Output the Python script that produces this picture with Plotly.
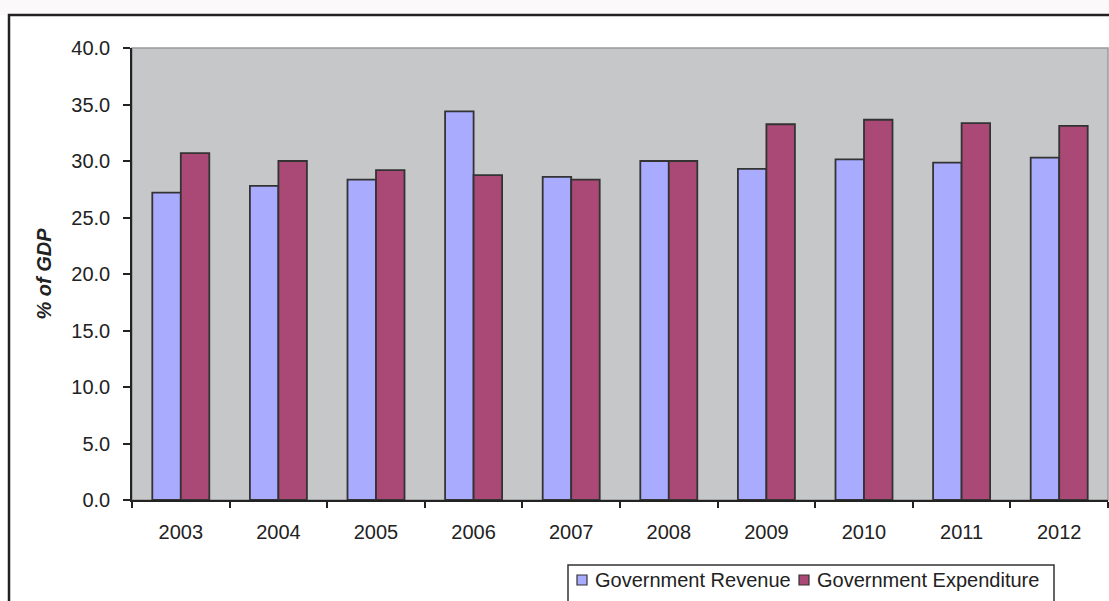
import plotly.graph_objects as go

years = ["2003", "2004", "2005", "2006", "2007", "2008", "2009", "2010", "2011", "2012"]
revenue = [27.2, 27.8, 28.35, 34.4, 28.6, 30.0, 29.3, 30.15, 29.85, 30.3]
expenditure = [30.7, 30.0, 29.2, 28.75, 28.35, 30.0, 33.25, 33.65, 33.35, 33.1]
y_ticks = [0, 5, 10, 15, 20, 25, 30, 35, 40]
series_names = ["Government Revenue", "Government Expenditure"]
series_colors = ["#a9abff", "#aa4876"]

W, H = 1109, 601
L, R, T, B = 132, 1, 48, 101
pw, ph = W - L - R, H - T - B

def px(x):
    return (x - L) / pw

def py(y):
    return (H - B - y) / ph

font = "Liberation Sans, Arial, sans-serif"
FS = 20

fig = go.Figure()
for name, vals, col in zip(series_names, [revenue, expenditure], series_colors):
    fig.add_trace(go.Bar(x=years, y=vals, name=name, showlegend=False,
                         marker=dict(color=col, line=dict(color="#333333", width=1.8))))

shapes = [
    dict(type="rect", xref="paper", yref="paper", x0=px(-5), x1=px(1120), y0=py(-5), y1=py(15),
         fillcolor="#fbf9f9", line=dict(width=0), layer="below"),
    dict(type="rect", xref="paper", yref="paper", x0=px(9), x1=px(1115), y0=py(15), y1=py(640),
         line=dict(color="#222222", width=2.5), fillcolor="rgba(0,0,0,0)"),
    dict(type="rect", xref="paper", yref="paper", x0=0, x1=1, y0=0, y1=1,
         line=dict(color="#9a9a9a", width=1.5), fillcolor="rgba(0,0,0,0)", layer="below"),
    dict(type="rect", xref="paper", yref="paper", x0=px(568), x1=px(1054), y0=py(565), y1=py(640),
         line=dict(color="#333333", width=1.5), fillcolor="rgba(0,0,0,0)"),
]
annotations = []
legend_x = [577, 799]
for name, col, lx in zip(series_names, series_colors, legend_x):
    shapes.append(dict(type="rect", xref="paper", yref="paper", x0=px(lx), x1=px(lx + 10),
                       y0=py(575), y1=py(585), fillcolor=col, line=dict(color="#333333", width=1.2)))
    annotations.append(dict(xref="paper", yref="paper", x=px(lx + 16), y=py(580), xanchor="left",
                            yanchor="middle", text=name, showarrow=False,
                            font=dict(family=font, size=FS, color="#222222")))

fig.update_layout(
    width=W, height=H,
    margin=dict(l=L, r=R, t=T, b=B),
    paper_bgcolor="white",
    plot_bgcolor="#c6c7c9",
    barmode="group", bargap=0.416, bargroupgap=0,
    font=dict(family=font, size=FS, color="#222222"),
    showlegend=False,
    xaxis=dict(type="category", showgrid=False, showline=True, linecolor="#222222", linewidth=1.5,
               ticks="outside", tickson="boundaries", ticklen=6, tickcolor="#222222", tickwidth=1.5,
               tickfont=dict(size=FS), ticklabelstandoff=13),
    yaxis=dict(range=[0, 40], tickvals=y_ticks, tickformat=".1f", showgrid=False, zeroline=False,
               showline=True, linecolor="#222222", linewidth=1.5,
               ticks="outside", ticklen=7, tickcolor="#222222", tickwidth=1.5,
               tickfont=dict(size=FS), ticklabelstandoff=9,
               title=dict(text="<b><i>% of GDP</i></b>", font=dict(size=20), standoff=14)),
    shapes=shapes,
    annotations=annotations,
)

fig.write_html("out.html")
